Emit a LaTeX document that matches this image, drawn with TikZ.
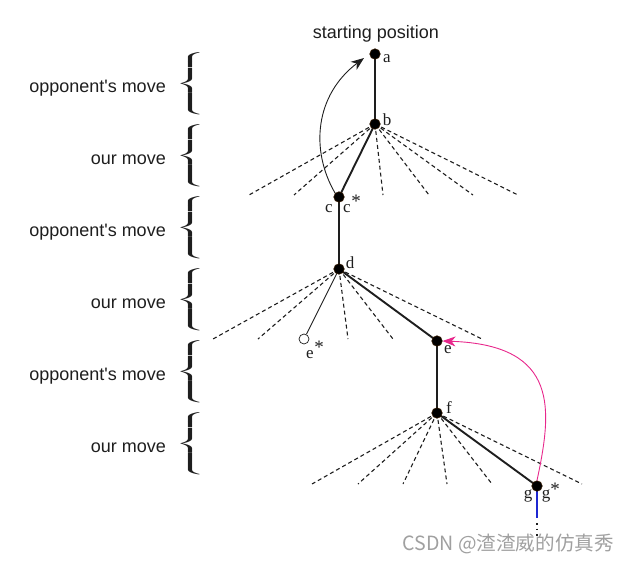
\documentclass[tikz,border=0pt]{standalone}
\usepackage{fontspec}
\usepackage{graphicx}
\setmainfont{Liberation Serif}
\setsansfont{Liberation Sans}
\newfontfamily\cjkfont{Noto Sans CJK SC}
\usetikzlibrary{arrows.meta,backgrounds}

\definecolor{lineblack}{RGB}{30,30,30}
\definecolor{pinkarrow}{RGB}{232,40,140}
\definecolor{blueline}{RGB}{30,40,210}
\definecolor{markgray}{RGB}{160,160,160}

% tall curly brace spanning one ply
\newcommand{\plybrace}{\resizebox*{31pt}{65pt}{\nulldelimiterspace=0pt$\left\{\vrule height 30pt depth 30pt width 0pt\right.$}}

\begin{document}
\begin{tikzpicture}[x=1pt,y=-1pt,
  gamepos/.style={circle,fill=black,draw=black!80!orange,line width=0.6pt,inner sep=0pt,minimum size=10.5pt},
  openpos/.style={circle,draw=lineblack,fill=white,line width=0.7pt,inner sep=0pt,minimum size=10pt},
  tag/.style={font=\fontsize{17}{17}\selectfont,inner sep=0pt,text=lineblack},
  startag/.style={font=\fontsize{19}{19}\selectfont,inner sep=0pt,text=lineblack},
  phase/.style={font=\sffamily\fontsize{18}{20}\selectfont,anchor=base east,inner sep=0pt,text=lineblack},
  plyb/.style={anchor=west,inner sep=0pt,text=lineblack},
  mainline/.style={line width=1.9pt,draw=lineblack},
  thinline/.style={line width=0.9pt,draw=lineblack},
  alt/.style={line width=1.1pt,draw=lineblack,dash pattern=on 4pt off 3pt},
  refute/.style={line width=0.9pt,draw=lineblack,-{Stealth[length=13pt,width=10pt,inset=4pt]}},
  pinkref/.style={line width=0.9pt,draw=pinkarrow,-{Stealth[length=13pt,width=10pt,inset=4pt]}}
]
\useasboundingbox (0,0) rectangle (630,562);

% game-tree positions
\node[gamepos] (a) at (375,54) {};
\node[gamepos] (b) at (375,124) {};
\node[gamepos] (c) at (339,197) {};
\node[gamepos] (d) at (339,269) {};
\node[openpos] (es) at (304,339) {};
\node[gamepos] (e) at (437,341) {};
\node[gamepos] (f) at (437,413) {};
\node[gamepos] (g) at (537,486) {};
\coordinate (gend) at (537,518);
\coordinate (gdots) at (537,536);
\coordinate (atip) at (364,58);

\begin{scope}[on background layer]
  % alternatives at each ply
  \foreach \x [count=\i] in {249,294,383,429,473,518} {
    \coordinate (b\i) at (\x,195);
    \draw[alt] (b.center) -- (b\i);
  }
  \foreach \x [count=\i] in {213,258,348,393,482} {
    \coordinate (d\i) at (\x,339);
    \draw[alt] (d.center) -- (d\i);
  }
  \foreach \x [count=\i] in {312,358,403,447,492,582} {
    \coordinate (f\i) at (\x,484);
    \draw[alt] (f.center) -- (f\i);
  }
  % principal line
  \draw[mainline] (a.center) -- (b.center) -- (c.center);
  \draw[mainline,line width=2.3pt] (c.center) -- (d.center);
  \draw[mainline] (d.center) -- (e.center) -- (f.center) -- (g.center);
  \draw[thinline] (d.center) -- (es);
  \draw[line width=2pt,draw=blueline] (g.center) -- (gend);
  \draw[line width=1.6pt,draw=lineblack,dash pattern=on 1.6pt off 4pt] (gend) ++(0,5) -- (gdots);
\end{scope}

% refutation arrows
\draw[refute] (c.north west) .. controls (310,150) and (315,95) .. (atip);
\draw[pinkref] (g.north) .. controls (552,410) and (560,345) .. (e.east);

% position labels
\node[tag] at (387,59) {a};
\node[tag] at (387,120) {b};
\node[tag] at (329,209) {c};
\node[tag] at (347,209) {c};
\node[startag] at (356,201) {*};
\node[tag] at (350,263) {d};
\node[tag] at (310,355) {e};
\node[startag] at (319,347) {*};
\node[tag] at (448,350) {e};
\node[tag] at (449,408) {f};
\node[tag] at (528,496) {g};
\node[tag] at (546,496) {g};
\node[startag] at (555,489) {*};

\node[font=\sffamily\fontsize{18}{20}\selectfont,inner sep=0pt,text=lineblack,anchor=base] (start) at (376,38) {starting position};

% ply annotations
\foreach \y/\txt [count=\i] in {85/opponent\textquotesingle s move,157/our move,229/opponent\textquotesingle s move,301/our move,373/opponent\textquotesingle s move,445/our move} {
  \node[plyb] (br\i) at (174.5,\y) {\plybrace};
  \node[phase] (ph\i) at (166,\y+7) {\txt};
}

\node[font=\cjkfont\fontsize{19.6}{21}\selectfont,text=markgray,anchor=base east,inner sep=0pt] (mark) at (614,550) {CSDN @渣渣威的仿真秀};
\end{tikzpicture}
\end{document}
